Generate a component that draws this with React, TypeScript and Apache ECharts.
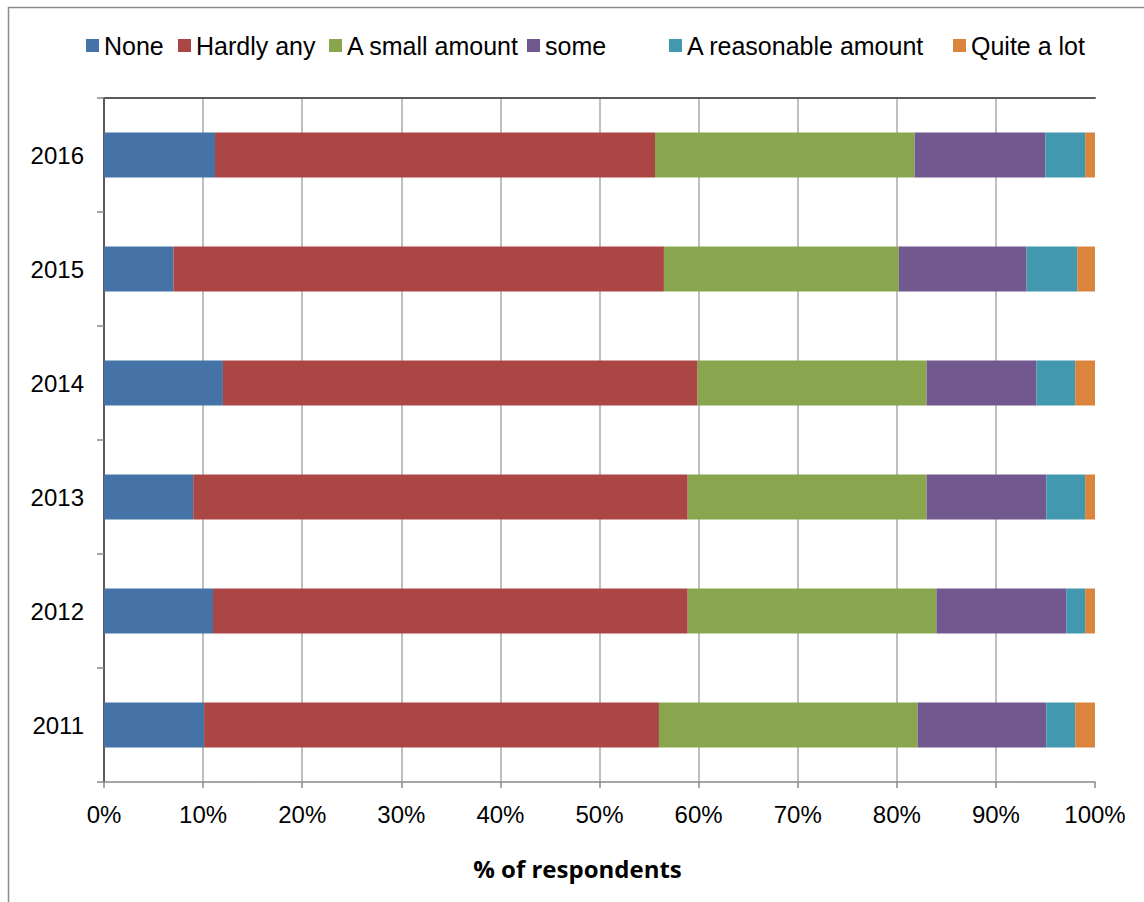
import React, { useEffect, useRef } from "react";
import * as echarts from "echarts";

const years = ["2011", "2012", "2013", "2014", "2015", "2016"];
const seriesNames = ["None", "Hardly any", "A small amount", "some", "A reasonable amount", "Quite a lot"];
const seriesColors = ["#4572A7", "#AA4643", "#89A54E", "#71588F", "#4198AF", "#DB843D"];

// values per series, ordered by years (2011..2016), % of respondents
const noneVals = [10.1, 11.0, 9.0, 12.0, 7.0, 11.2];
const hardlyVals = [45.9, 47.9, 49.9, 47.9, 49.5, 44.4];
const smallVals = [26.1, 25.1, 24.1, 23.1, 23.7, 26.2];
const someVals = [13.0, 13.1, 12.1, 11.1, 12.9, 13.2];
const reasonableVals = [2.9, 1.9, 3.9, 3.9, 5.1, 4.0];
const quiteVals = [2.0, 1.0, 1.0, 2.0, 1.8, 1.0];

const xTicks = [0, 10, 20, 30, 40, 50, 60, 70, 80, 90, 100];
const xAxisTitle = "% of respondents";

const allVals = [noneVals, hardlyVals, smallVals, someVals, reasonableVals, quiteVals];
const legendLefts = [86, 178, 329, 527, 669, 953];

export default function App() {
  const ref = useRef<HTMLDivElement>(null);
  useEffect(() => {
    document.body.style.margin = "0";
    const chart = echarts.init(ref.current!, undefined, { renderer: "svg" });
    const font = "'Liberation Sans', Arial, sans-serif";
    const gridColors = xTicks.map((t, i) =>
      i === 0 || i === xTicks.length - 1 ? "rgba(0,0,0,0)" : "#ababab"
    );
    chart.setOption({
      animation: false,
      backgroundColor: "#ffffff",
      textStyle: { fontFamily: font },
      graphic: [
        {
          type: "rect",
          shape: { x: 8.5, y: 7.5, width: 1300, height: 1100 },
          style: { fill: "none", stroke: "#8c8c8c", lineWidth: 1.5 },
          silent: true,
        },
      ],
      legend: seriesNames.map((n, i) => ({
        data: [n],
        left: legendLefts[i],
        top: 33,
        padding: 0,
        itemWidth: 13,
        itemHeight: 13,
        itemGap: 0,
        icon: "rect",
        textStyle: { fontSize: 25, color: "#000", fontFamily: font },
        selectedMode: false,
      })),
      grid: { left: 104, right: 49, top: 98, bottom: 120, containLabel: false },
      xAxis: [
        {
          type: "value",
          min: 0,
          max: 100,
          interval: 10,
          position: "bottom",
          axisLine: { show: true, lineStyle: { color: "#888888", width: 1.5 } },
          axisTick: { show: true, length: 6, lineStyle: { color: "#888888", width: 1.5 } },
          axisLabel: {
            formatter: (v: number) => v + "%",
            fontSize: 24,
            color: "#000",
            margin: 20,
            fontFamily: font,
          },
          splitLine: { show: true, lineStyle: { color: gridColors, width: 1.5 } },
          name: xAxisTitle,
          nameLocation: "middle",
          nameGap: 74,
          nameTextStyle: {
            fontSize: 24,
            fontWeight: "bold",
            color: "#000",
            fontFamily: "'Open Sans', 'Noto Sans', sans-serif",
            padding: [0, 44, 0, 0],
          },
        },
        {
          type: "value",
          min: 0,
          max: 100,
          interval: 10,
          position: "top",
          axisLine: { show: true, lineStyle: { color: "#5a5a5a", width: 2 } },
          axisTick: { show: false },
          axisLabel: { show: false },
          splitLine: { show: false },
        },
      ],
      yAxis: [
        {
          type: "category",
          data: years,
          position: "left",
          axisLine: { show: true, lineStyle: { color: "#888888", width: 1.5 } },
          axisTick: { show: true, length: 7, lineStyle: { color: "#888888", width: 1.5 } },
          axisLabel: { fontSize: 24, color: "#000", margin: 20, fontFamily: font },
          splitLine: { show: false },
        },
        {
          type: "category",
          data: years,
          position: "right",
          axisLine: { show: true, lineStyle: { color: "#5a5a5a", width: 2 } },
          axisTick: { show: false },
          axisLabel: { show: false },
          splitLine: { show: false },
        },
      ],
      series: seriesNames.map((n, i) => ({
        name: n,
        type: "bar",
        stack: "total",
        xAxisIndex: 0,
        yAxisIndex: 0,
        barWidth: 45,
        data: allVals[i],
        itemStyle: { color: seriesColors[i] },
      })),
    });
    return () => chart.dispose();
  }, []);
  return <div ref={ref} style={{ width: 1144, height: 902 }} />;
}
